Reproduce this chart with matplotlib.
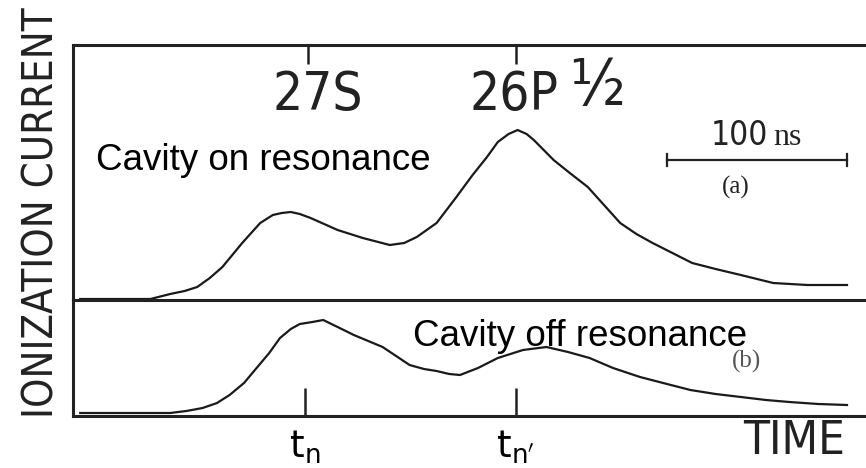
import matplotlib
matplotlib.use("Agg")
import matplotlib.pyplot as plt

# ---- data (time in ns, signal in arbitrary units) ----
t_a = [4, 17, 43, 54, 62, 69, 76, 83, 94, 104, 111, 116, 121, 126, 132, 147, 161, 176,
       184, 191, 202, 213, 222, 230, 236, 242, 247, 252, 256, 267, 276, 286, 295, 304,
       313, 322, 333, 344, 357, 371, 389, 408, 430]
sig_a = [1, 1, 1, 6, 9, 13, 22, 33, 57, 77, 85, 87, 88, 86, 82, 70, 62, 55,
         57, 63, 77, 103, 125, 143, 158, 166, 170, 166, 160, 140, 127, 113, 95, 77,
         66, 57, 47, 37, 31, 25, 17, 15, 15]

t_b = [4, 54, 63, 72, 80, 87, 95, 102, 109, 115, 121, 126, 133, 139, 147, 156, 172,
       187, 195, 202, 209, 215, 225, 236, 250, 263, 275, 287, 300, 315, 330, 343, 357,
       371, 385, 398, 414, 430]
sig_b = [3, 3, 5, 8, 13, 21, 33, 48, 63, 78, 87, 92, 94, 96, 89, 81, 69,
         51, 47, 45, 42, 41, 48, 58, 66, 69, 64, 58, 48, 39, 32, 26, 22,
         19, 16, 14, 12, 11]

top_tick_pos = [130.5, 246]
top_tick_labels = ["27S", "26P", "½"]
bottom_tick_pos = [129, 246]
bottom_tick_labels = [r"$\mathsf{t_n}$", r"$\mathsf{t_{n'}}$"]
scale_bar = (330, 430)  # 100 ns

plt.rcParams['mathtext.fontset'] = 'dejavusans'
arial = ['Liberation Sans', 'DejaVu Sans']
serif = ['Liberation Serif', 'DejaVu Serif']
cond = dict(family=['DejaVu Sans'], stretch='condensed')
ink = '#222222'

W, H = 866, 468
fig = plt.figure(figsize=(W / 100, H / 100), dpi=100)
left = 73 / W
ya_top, ya_bot, yb_bot = 45, 300, 416
ax_a = fig.add_axes([left, 1 - ya_bot / H, 1 - left, (ya_bot - ya_top) / H])
ax_b = fig.add_axes([left, 1 - yb_bot / H, 1 - left, (yb_bot - ya_bot) / H])
ax_b.patch.set_alpha(0)

xmax = (W - 73) / 1.8
line_kw = dict(color='#1a1a1a', lw=1.6)

ax_a.plot(t_a, sig_a, **line_kw)
ax_a.set_xlim(0, xmax)
ax_a.set_ylim(0, 255)
ax_b.plot(t_b, sig_b, **line_kw)
ax_b.set_xlim(0, xmax)
ax_b.set_ylim(0, 116)

for ax in (ax_a, ax_b):
    ax.spines['right'].set_visible(False)
    for s in ax.spines.values():
        s.set_color(ink)
        s.set_linewidth(2.2)
    ax.set_yticks([])
ax_b.spines['top'].set_visible(False)

ax_a.set_xticks(top_tick_pos)
ax_a.tick_params(axis='x', which='both', top=True, bottom=False, labelbottom=False,
                 labeltop=False, direction='in', length=14, width=1.8, color=ink)

ax_b.set_xticks(bottom_tick_pos)
ax_b.set_xticklabels(bottom_tick_labels, fontsize=27)
ax_b.tick_params(axis='x', direction='in', length=20, width=1.8, color=ink, pad=9)

# state labels
ax_a.text(136, 231, top_tick_labels[0], fontsize=38,
          ha='center', va='top', color=ink, **cond)
ax_a.text(245, 231, top_tick_labels[1], fontsize=38,
          ha='center', va='top', color=ink, **cond)
ax_a.text(291, 244, top_tick_labels[2], fontsize=46,
          ha='center', va='top', color=ink, **cond)

# scale bar
ax_a.plot(scale_bar, [140, 140], color=ink, lw=1.6)
for xb in scale_bar:
    ax_a.plot([xb, xb], [134, 146], color=ink, lw=1.6)
ax_a.text(386, 148, "100", fontsize=24, ha='right', va='bottom', color=ink, **cond)
ax_a.text(389, 148, "ns", family=serif, fontsize=23, ha='left', va='bottom', color=ink)

ax_a.text(368, 113, "(a)", family=serif, fontsize=18, ha='center', va='center',
          color=ink)
ax_b.text(374, 55, "(b)", family=serif, fontsize=18, ha='center', va='center',
          color='#555555')

ax_a.text(13, 140, "Cavity on resonance", family=arial, fontsize=26.5,
          ha='left', va='center', color='black')
ax_b.text(189, 80, "Cavity off resonance", family=arial, fontsize=26.5,
          ha='left', va='center', color='black')

fig.text(42 / W, 1 - 213 / H, "IONIZATION CURRENT", fontsize=30,
         rotation=90, ha='center', va='center', color=ink, **cond)
fig.text(794 / W, 1 - 442 / H, "TIME", fontsize=34,
         ha='center', va='center', color=ink, **cond)

fig.savefig("out.png", dpi=100)
